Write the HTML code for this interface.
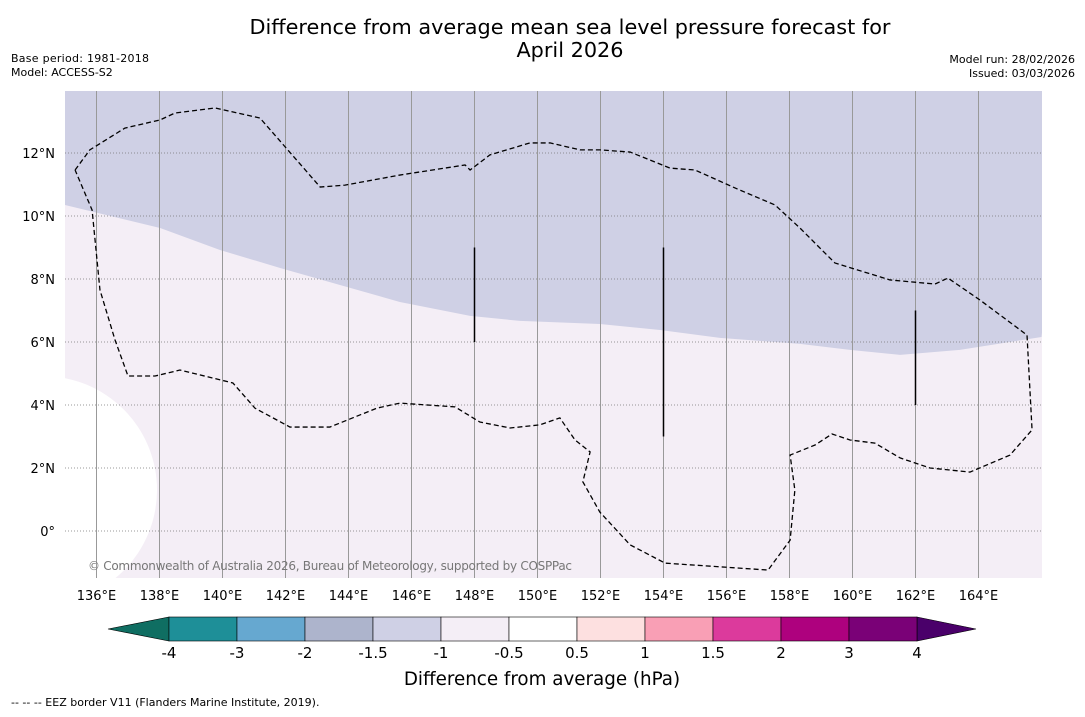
<!DOCTYPE html>
<html><head><meta charset="utf-8"><style>
body{margin:0;background:#fff;width:1085px;height:713px;overflow:hidden;font-family:"DejaVu Sans","Liberation Sans",sans-serif}
svg text{font-family:"DejaVu Sans","Liberation Sans",sans-serif}
</style></head><body>
<svg id="c" width="1085" height="713">
<text x="570" y="34" font-size="20.8" text-anchor="middle">Difference from average mean sea level pressure forecast for</text>
<text x="570" y="57" font-size="20.8" text-anchor="middle">April 2026</text>
<text x="11" y="62" font-size="11" textLength="138">Base period: 1981-2018</text>
<text x="11" y="76" font-size="11">Model: ACCESS-S2</text>
<text x="1075" y="63" font-size="11" text-anchor="end">Model run: 28/02/2026</text>
<text x="1075" y="77" font-size="11" text-anchor="end">Issued: 03/03/2026</text>
<defs><clipPath id="mc"><rect x="65" y="91" width="977" height="487"/></clipPath></defs>
<g id="map" clip-path="url(#mc)"></g>
<g id="axes"></g>
<g id="cbar"></g>
<text x="542" y="685" font-size="18.3" text-anchor="middle">Difference from average (hPa)</text>
<text x="11" y="706" font-size="11">--  --  -- EEZ border V11 (Flanders Marine Institute, 2019).</text>
</svg>
<script>
const lonTicks=[136,138,140,142,144,146,148,150,152,154,156,158,160,162,164];
const latTicks=[0,2,4,6,8,10,12];
const cbBounds=[-4,-3,-2,-1.5,-1,-0.5,0.5,1,1.5,2,3,4];
const cbColors=["#1e8f98","#66a8d0","#adb4cc","#cfd0e5","#f4eef6","#ffffff","#fde0e0","#f99fb5","#dc3a9c","#ae017e","#7a0177"];
const eezLon=[135.32,135.79,136.9,138.02,138.49,139.76,141.19,143.1,143.89,145.63,147.7,147.86,148.49,149.76,150.4,151.35,151.98,152.94,154.21,155,156.27,157.54,158.33,159.44,161.19,162.62,163.03,164.05,165.54,165.7,165,163.73,162.46,161.51,160.71,159.92,159.35,158.81,158.02,158.17,158.02,157.32,154.05,152.94,151.98,151.44,151.67,151.19,150.71,150.08,149.13,148.17,147.38,145.63,144.9,143.41,142.14,141.03,140.33,138.65,137.86,137,136.59,136.11,135.86,135.32];
const eezLat=[11.46,12.1,12.79,13.05,13.27,13.43,13.11,10.92,10.98,11.3,11.62,11.46,11.94,12.32,12.32,12.1,12.1,12.03,11.52,11.46,10.89,10.35,9.62,8.51,7.97,7.84,8.03,7.33,6.22,3.21,2.41,1.87,2,2.32,2.79,2.89,3.08,2.73,2.41,1.3,-0.29,-1.24,-1.02,-0.44,0.6,1.56,2.51,2.89,3.59,3.37,3.27,3.46,3.94,4.06,3.9,3.3,3.3,3.9,4.7,5.11,4.92,4.92,6.06,7.65,10.19,11.46];
const bndLon=[135,138.02,139.92,141.83,143.73,145.63,147.86,149.44,151.98,153.89,155.79,158.33,159.92,161.51,163.41,166];
const bndLat=[10.35,9.62,8.92,8.35,7.81,7.27,6.83,6.67,6.57,6.38,6.13,5.94,5.75,5.59,5.75,6.16];
const segLon=[148,154,162];
const segLat0=[6,3,4];
const segLat1=[9,9,7];
const NS="http://www.w3.org/2000/svg";
const X=lon=>65+(lon-135)*31.5, Y=lat=>531-lat*31.5;
function mk(p,t,a){const e=document.createElementNS(NS,t);for(const k in a)e.setAttribute(k,a[k]);p.appendChild(e);return e;}
const map=document.getElementById('map'),axes=document.getElementById('axes'),cb=document.getElementById('cbar');
let e=mk(map,'rect',{x:65,y:91,width:977,height:487,fill:'#f4eef6'});


let d='M'+X(135)+','+Y(15);bndLon.forEach((l,i)=>d+=' L'+X(l)+','+Y(bndLat[i]));d+=' L'+X(167)+','+Y(15)+'Z';
e=mk(map,'path',{d:d,fill:'#cfd0e5'});


e=mk(map,'circle',{cx:43,cy:490,r:114,fill:'#fff'});


lonTicks.forEach(l=>{e=mk(map,'line',{x1:X(l),x2:X(l),y1:91,y2:578,stroke:'#999',"stroke-width":1});

});
latTicks.forEach(l=>{e=mk(map,'line',{x1:65,x2:1042,y1:Y(l),y2:Y(l),stroke:'#777',"stroke-width":0.8,"stroke-dasharray":'1,2'});

});
d='';eezLon.forEach((l,i)=>d+=(i?' L':'M')+X(l)+','+Y(eezLat[i]));
e=mk(map,'path',{d:d,fill:'none',stroke:'#000',"stroke-width":1.3,"stroke-dasharray":'5,3'});


segLon.forEach((l,i)=>{e=mk(map,'line',{x1:X(l),x2:X(l),y1:Y(segLat0[i]),y2:Y(segLat1[i]),stroke:'#000',"stroke-width":1.5});

});
e=mk(map,'text',{x:88,y:570,"font-size":12,fill:'#777',textLength:484});e.textContent='© Commonwealth of Australia 2026, Bureau of Meteorology, supported by COSPPac';


lonTicks.forEach(l=>{e=mk(axes,'text',{x:X(l),y:600,"font-size":13,"text-anchor":'middle'});e.textContent=l+'°E';

});
latTicks.forEach(l=>{e=mk(axes,'text',{x:55,y:Y(l)+5,"font-size":13,"text-anchor":'end'});e.textContent=l===0?'0°':l+'°N';

});
const bw=68,bx=169,by=617,bh=24;
e=mk(cb,'polygon',{points:`108,${by+bh/2} ${bx},${by} ${bx},${by+bh}`,fill:'#0f6e62',stroke:'#000',"stroke-width":0.6});


const ex=bx+bw*cbColors.length;
e=mk(cb,'polygon',{points:`${ex},${by} ${ex+59},${by+bh/2} ${ex},${by+bh}`,fill:'#4a006a',stroke:'#000',"stroke-width":0.6});


cbColors.forEach((c,i)=>{e=mk(cb,'rect',{x:bx+i*bw,y:by,width:bw,height:bh,fill:c,stroke:'#000',"stroke-width":0.6});

});
cbBounds.forEach((b,i)=>{e=mk(cb,'text',{x:bx+i*bw,y:658,"font-size":15,"text-anchor":'middle'});e.textContent=b;

});
</script>
</body></html>
